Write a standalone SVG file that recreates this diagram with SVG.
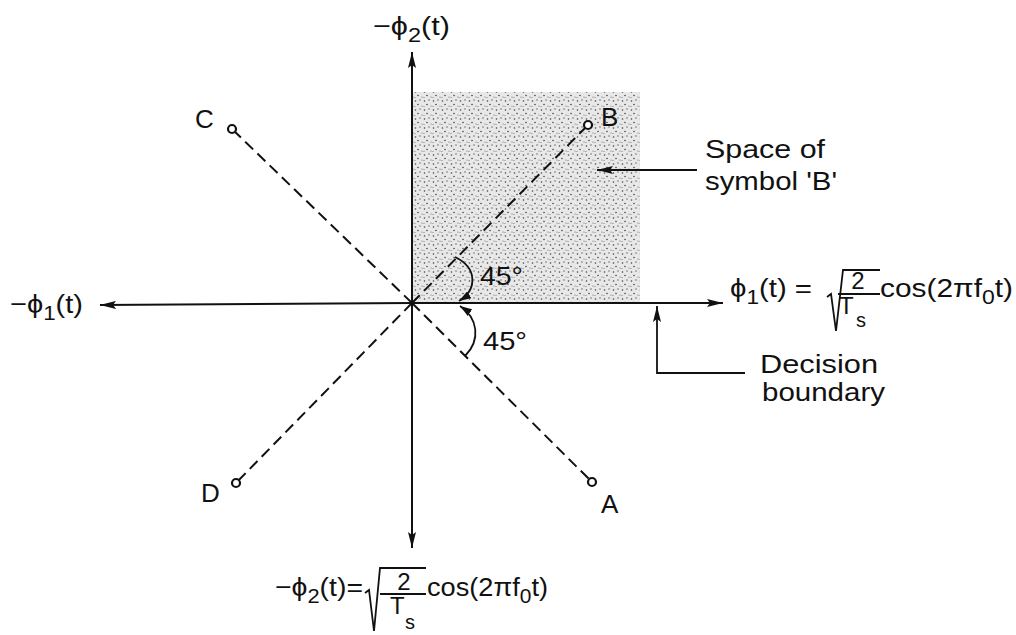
<svg xmlns="http://www.w3.org/2000/svg" width="1016" height="635" viewBox="0 0 1016 635">
<style>
text{font-family:"Liberation Sans",Arial,sans-serif;fill:#111;}
.lbl{font-size:26px;}
.pt{font-size:26px;}
.frac{font-size:24px;}
.sub{font-size:20px;}
.ax{stroke:#111;stroke-width:2;fill:none;}
.thin{stroke:#111;stroke-width:1.8;fill:none;}
.dash{stroke:#111;stroke-width:2;stroke-dasharray:11 6;fill:none;}
.pnt{fill:#fff;stroke:#111;stroke-width:2.2;}
</style>
<defs>
<pattern id="stip" width="9" height="9" patternUnits="userSpaceOnUse">
<rect width="9" height="9" fill="#e8e8e8"/>
<circle cx="1.5" cy="2" r="0.8" fill="#444"/>
<circle cx="6" cy="1" r="0.7" fill="#555"/>
<circle cx="4" cy="5.5" r="0.8" fill="#444"/>
<circle cx="8" cy="7" r="0.6" fill="#666"/>
<circle cx="1" cy="7.5" r="0.6" fill="#777"/>
</pattern>
<marker id="arr" viewBox="0 0 16 8" refX="16" refY="4" markerWidth="16" markerHeight="8" markerUnits="userSpaceOnUse" orient="auto">
<path d="M0,0 L16,4 L0,8 L3,4 Z" fill="#111"/>
</marker>
<marker id="arrs" viewBox="0 0 12 8" refX="12" refY="4" markerWidth="12" markerHeight="8" markerUnits="userSpaceOnUse" orient="auto">
<path d="M0,0 L12,4 L0,8 Z" fill="#111"/>
</marker>
</defs>

<rect id="region-B" x="412" y="92" width="228" height="211" fill="url(#stip)"/>

<g id="connectors">
<line class="ax" x1="412" y1="303" x2="412" y2="52" marker-end="url(#arr)"/>
<line class="ax" x1="412" y1="303" x2="412" y2="548" marker-end="url(#arr)"/>
<line class="ax" x1="412" y1="303" x2="100" y2="305" marker-end="url(#arr)"/>
<line class="ax" x1="412" y1="303" x2="723" y2="303" marker-end="url(#arr)"/>
<line class="dash" x1="412" y1="303" x2="588" y2="125"/>
<line class="dash" x1="412" y1="303" x2="232" y2="129"/>
<line class="dash" x1="412" y1="303" x2="236" y2="483"/>
<line class="dash" x1="412" y1="303" x2="592" y2="482"/>
<path class="thin" d="M455 257 C478 268 477 290 459 301" marker-end="url(#arrs)"/>
<path class="thin" d="M465 356 C481 340 478 318 460 306" marker-end="url(#arrs)"/>
<line class="thin" x1="697" y1="170" x2="597" y2="170" marker-end="url(#arr)"/>
<polyline class="thin" points="745,373 657,373 657,306" marker-end="url(#arr)"/>
</g>

<g id="point-B"><circle class="pnt" cx="588" cy="125" r="4"/><text class="pt" x="601" y="126">B</text></g>
<g id="point-C"><circle class="pnt" cx="232" cy="129" r="4"/><text class="pt" x="195" y="128">C</text></g>
<g id="point-D"><circle class="pnt" cx="236" cy="483" r="4"/><text class="pt" x="201" y="502">D</text></g>
<g id="point-A"><circle class="pnt" cx="592" cy="482" r="4"/><text class="pt" x="601" y="513">A</text></g>

<g id="angles">
<text class="lbl" x="480" y="285" textLength="43" lengthAdjust="spacingAndGlyphs">45°</text>
<text class="lbl" x="483" y="350" textLength="44" lengthAdjust="spacingAndGlyphs">45°</text>
</g>

<g id="label-top">
<text class="lbl" x="373" y="35" textLength="77" lengthAdjust="spacingAndGlyphs">−ϕ<tspan class="sub" dy="7">2</tspan><tspan dy="-7">(t)</tspan></text>
</g>
<g id="label-left">
<text class="lbl" x="10" y="313" textLength="73" lengthAdjust="spacingAndGlyphs">−ϕ<tspan class="sub" dy="7">1</tspan><tspan dy="-7">(t)</tspan></text>
</g>

<g id="label-right">
<text class="lbl" x="730" y="297" textLength="82" lengthAdjust="spacingAndGlyphs">ϕ<tspan class="sub" dy="7">1</tspan><tspan dy="-7">(t) =</tspan></text>
<path class="thin" d="M827 297 L831 294 L836 331 L843 270 L880 270"/>
<text class="frac" x="858" y="289" text-anchor="middle">2</text>
<line class="thin" x1="838" y1="294" x2="880" y2="294"/>
<text class="frac" x="839" y="314">T</text>
<text class="sub" x="856" y="327">s</text>
<text class="lbl" x="880" y="297" textLength="133" lengthAdjust="spacingAndGlyphs">cos(2πf<tspan class="sub" dy="7">0</tspan><tspan dy="-7">t)</tspan></text>
</g>

<g id="label-bottom">
<text class="lbl" x="275" y="596" textLength="88" lengthAdjust="spacingAndGlyphs">−ϕ<tspan class="sub" dy="7">2</tspan><tspan dy="-7">(t)=</tspan></text>
<path class="thin" d="M365 593 L369 590 L374 631 L380 568 L426 568"/>
<text class="frac" x="404" y="590" text-anchor="middle">2</text>
<line class="thin" x1="380" y1="594" x2="426" y2="594"/>
<text class="frac" x="390" y="614">T</text>
<text class="sub" x="405" y="629">s</text>
<text class="lbl" x="427" y="596" textLength="121" lengthAdjust="spacingAndGlyphs">cos(2πf<tspan class="sub" dy="7">0</tspan><tspan dy="-7">t)</tspan></text>
</g>

<g id="note-space">
<text class="lbl" x="705" y="158" textLength="120" lengthAdjust="spacingAndGlyphs">Space of</text>
<text class="lbl" x="705" y="190" textLength="132" lengthAdjust="spacingAndGlyphs">symbol 'B'</text>
</g>
<g id="note-boundary">
<text class="lbl" x="760" y="373" textLength="118" lengthAdjust="spacingAndGlyphs">Decision</text>
<text class="lbl" x="762" y="401" textLength="123" lengthAdjust="spacingAndGlyphs">boundary</text>
</g>
</svg>
